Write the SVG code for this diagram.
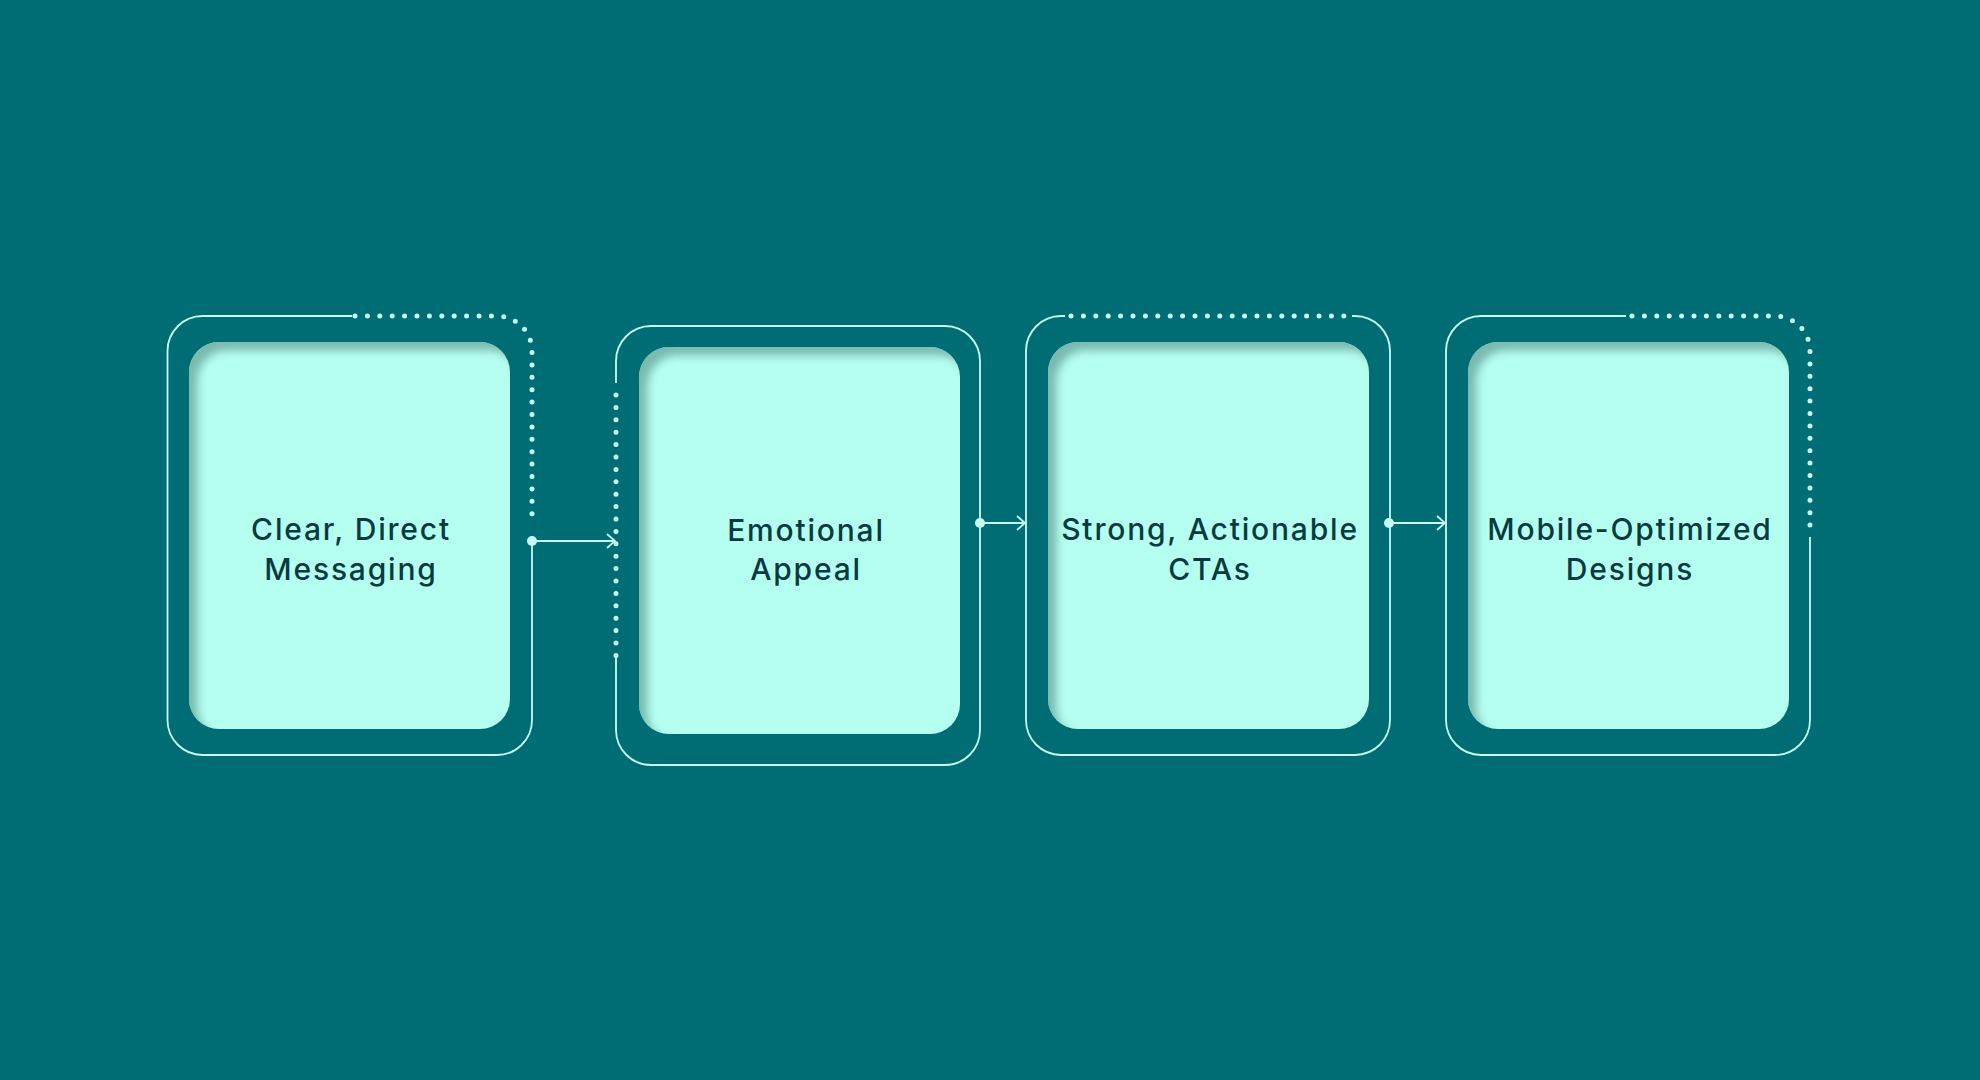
<svg xmlns="http://www.w3.org/2000/svg" width="1980" height="1080" viewBox="0 0 1980 1080">
  <defs>
    <style>
      .frame { fill: none; stroke: #c6fbf2; stroke-width: 1.8; }
      .dots { fill: none; stroke: #c6fbf2; stroke-width: 5; stroke-linecap: round; stroke-dasharray: 0 12.4; }
      .card { fill: #b5fff0; filter: url(#inset); }
      .label { font-family: Inter, "Liberation Sans", sans-serif; font-weight: 500; font-size: 30px; letter-spacing: 1.8px; fill: #083b41; text-anchor: middle; }
      .conn { fill: none; stroke: #c6fbf2; stroke-width: 1.8; }
      .hub { fill: #c6fbf2; }
    </style>
    <filter id="inset" x="-10%" y="-10%" width="120%" height="120%">
      <feFlood flood-color="#4f8f87" flood-opacity="0.7" result="c"/>
      <feComposite in="c" in2="SourceAlpha" operator="out" result="inv"/>
      <feOffset in="inv" dx="9" dy="9" result="off"/>
      <feGaussianBlur in="off" stdDeviation="4" result="blur"/>
      <feComposite in="blur" in2="SourceAlpha" operator="in" result="sh"/>
      <feMerge><feMergeNode in="SourceGraphic"/><feMergeNode in="sh"/></feMerge>
    </filter>
    <marker id="chev" viewBox="0 0 10 16" refX="9" refY="8" markerWidth="10" markerHeight="16" markerUnits="userSpaceOnUse" orient="auto">
      <polyline points="1,1 9,8 1,15" fill="none" stroke="#c6fbf2" stroke-width="1.8"/>
    </marker>
  </defs>
  <rect width="1980" height="1080" fill="#006d75"/>

  <g id="node1">
    <path class="frame" d="M 352 316 H 202.5 A 35 35 0 0 0 167.5 351 V 720 A 35 35 0 0 0 202.5 755 H 497 A 35 35 0 0 0 532 720 V 541"/>
    <path class="dots" d="M 355 316 H 497 A 35 35 0 0 1 532 351 V 523"/>
    <rect class="card" x="189" y="342" width="321" height="387" rx="30"/>
    <text class="label" x="351" y="540">Clear, Direct</text>
    <text class="label" x="351" y="580">Messaging</text>
  </g>

  <g id="node2">
    <path class="frame" d="M 616 383 V 361 A 35 35 0 0 1 651 326 H 945 A 35 35 0 0 1 980 361 V 730 A 35 35 0 0 1 945 765 H 651 A 35 35 0 0 1 616 730 V 656"/>
    <path class="dots" d="M 616 395 V 656"/>
    <rect class="card" x="639" y="347" width="321" height="387" rx="30"/>
    <text class="label" x="806" y="541">Emotional</text>
    <text class="label" x="806" y="580">Appeal</text>
  </g>

  <g id="node3">
    <path class="frame" d="M 1065 316 H 1061 A 35 35 0 0 0 1026 351 V 720 A 35 35 0 0 0 1061 755 H 1355 A 35 35 0 0 0 1390 720 V 351 A 35 35 0 0 0 1355 316 H 1352"/>
    <path class="dots" d="M 1071 316 H 1346"/>
    <rect class="card" x="1048" y="342" width="321" height="387" rx="30"/>
    <text class="label" x="1210" y="540">Strong, Actionable</text>
    <text class="label" x="1210" y="580">CTAs</text>
  </g>

  <g id="node4">
    <path class="frame" d="M 1626 316 H 1481 A 35 35 0 0 0 1446 351 V 720 A 35 35 0 0 0 1481 755 H 1775 A 35 35 0 0 0 1810 720 V 537"/>
    <path class="dots" d="M 1632 316 H 1775 A 35 35 0 0 1 1810 351 V 527"/>
    <rect class="card" x="1468" y="342" width="321" height="387" rx="30"/>
    <text class="label" x="1630" y="540">Mobile-Optimized</text>
    <text class="label" x="1630" y="580">Designs</text>
  </g>

  <g id="connectors">
    <circle class="hub" cx="532" cy="541" r="5"/>
    <path class="conn" d="M 532 541 H 615" marker-end="url(#chev)"/>
    <circle class="hub" cx="980" cy="523" r="5"/>
    <path class="conn" d="M 980 523 H 1025" marker-end="url(#chev)"/>
    <circle class="hub" cx="1389" cy="523" r="5"/>
    <path class="conn" d="M 1389 523 H 1445" marker-end="url(#chev)"/>
  </g>
</svg>
